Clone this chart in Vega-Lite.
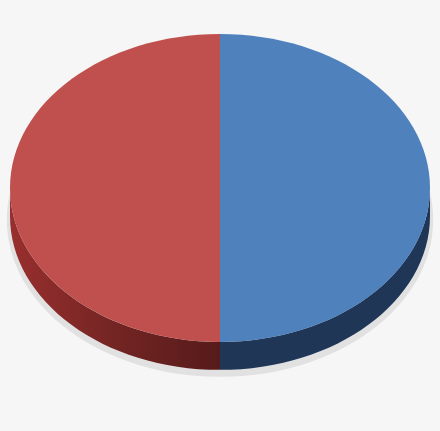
{
  "$schema": "https://vega.github.io/schema/vega-lite/v6.json",
  "width": 440,
  "height": 431,
  "autosize": {"type": "fit", "contains": "padding"},
  "padding": 0,
  "background": "#f6f6f6",
  "config": {"view": {"stroke": null}},
  "data": {
    "values": [
      {"slice": "Slice 1", "value": 50},
      {"slice": "Slice 2", "value": 50}
    ]
  },
  "layer": [
    {
      "transform": [{"aggregate": [{"op": "sum", "field": "value", "as": "total"}]}],
      "mark": {
        "type": "point",
        "filled": true,
        "opacity": 0.3,
        "strokeWidth": 0,
        "color": "#b0b0b0",
        "size": 176400,
        "shape": "M-1.015,0.02 A1.015,0.748 0 1,0 1.015,0.02 A1.015,0.748 0 1,0 -1.015,0.02 Z"
      },
      "encoding": {}
    },
    {
      "transform": [{"filter": "datum.slice === 'Slice 2'"}],
      "mark": {
        "type": "point",
        "filled": true,
        "opacity": 1,
        "strokeWidth": 0,
        "size": 176400,
        "shape": "M0,0.602 L0,0.735 A1,0.733 0 0,1 -1,0.002 L-1,-0.131 A1,0.733 0 0,0 0,0.602 Z",
        "fill": {
          "gradient": "linear",
          "x1": 0, "y1": 0, "x2": 1, "y2": 0,
          "stops": [
            {"offset": 0, "color": "#982f2e"},
            {"offset": 0.5, "color": "#732523"},
            {"offset": 1, "color": "#551b1a"}
          ]
        }
      },
      "encoding": {}
    },
    {
      "transform": [{"filter": "datum.slice === 'Slice 1'"}],
      "mark": {
        "type": "point",
        "filled": true,
        "opacity": 1,
        "strokeWidth": 0,
        "size": 176400,
        "shape": "M1,-0.131 L1,0.002 A1,0.733 0 0,1 0,0.735 L0,0.602 A1,0.733 0 0,0 1,-0.131 Z",
        "fill": "#1f3657"
      },
      "encoding": {}
    },
    {
      "mark": {"type": "point", "filled": true, "opacity": 1, "strokeWidth": 0, "size": 176400},
      "encoding": {
        "shape": {
          "field": "slice",
          "type": "nominal",
          "scale": {
            "domain": ["Slice 1", "Slice 2"],
            "range": [
              "M0,-0.864 A1,0.733 0 0,1 0,0.602 Z",
              "M0,0.602 A1,0.733 0 0,1 0,-0.864 Z"
            ]
          },
          "legend": null
        },
        "color": {
          "field": "slice",
          "type": "nominal",
          "scale": {"domain": ["Slice 1", "Slice 2"], "range": ["#4f81bd", "#c0504d"]},
          "legend": null
        },
        "tooltip": [
          {"field": "slice", "type": "nominal", "title": "Slice"},
          {"field": "value", "type": "quantitative", "title": "Value"}
        ]
      }
    }
  ]
}
